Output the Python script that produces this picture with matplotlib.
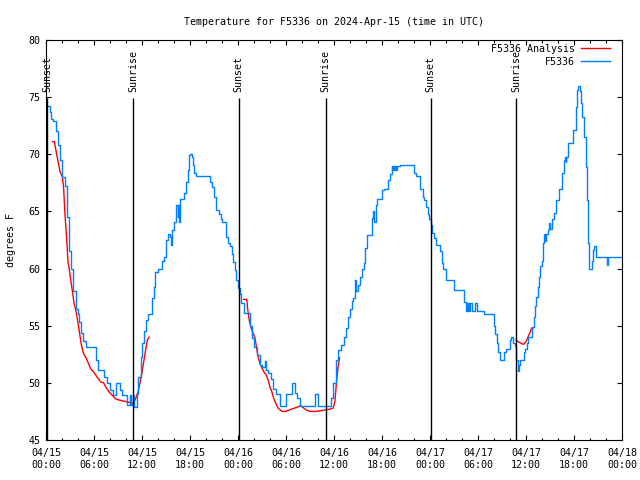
import matplotlib
matplotlib.use("Agg")
import matplotlib.pyplot as plt
import matplotlib.dates as mdates
import numpy as np
import pandas as pd

start = pd.Timestamp("2024-04-15 00:00")

# F5336 observations (hours after start, deg F)
obs_hours = [
    0.25, 0.45, 0.6, 0.9, 1.2, 1.5, 1.75, 2.05, 2.33, 2.6, 2.85, 3.15, 3.4, 3.7,
    3.95, 4.1, 4.4, 4.65, 4.95, 6.2, 6.5, 7.3, 7.6, 8.05, 8.4, 8.7, 9.3, 9.55,
    10.15, 10.5, 10.6, 10.9, 11.0, 11.4, 11.55, 11.85, 12.0, 12.2, 12.45, 12.7,
    13.25, 13.45, 13.6, 13.95, 14.5, 14.8, 15.0, 15.2, 15.5, 15.6, 15.8, 15.95,
    16.2, 16.3, 16.45, 16.55, 16.65, 16.8, 17.3, 17.55, 17.7, 17.85, 18.0, 18.2,
    18.35, 18.5, 18.7, 20.45, 20.75, 21.0, 21.3, 21.6, 21.9, 22.05, 22.5, 22.8,
    23.0, 23.2, 23.4, 23.6, 23.8, 24.0, 24.2, 24.4, 24.75, 25.45, 25.8, 26.0,
    26.4, 26.7, 27.0, 27.35, 27.5, 27.8, 28.1, 28.4, 28.75, 29.2, 30.0, 30.7,
    31.1, 31.35, 31.7, 33.6, 34.0, 35.6, 35.9, 36.2, 36.3, 36.5, 36.9, 37.2,
    37.5, 37.8, 38.0, 38.2, 38.4, 38.6, 38.75, 39.0, 39.2, 39.5, 39.7, 39.9,
    40.1, 40.75, 40.85, 40.95, 41.3, 41.4, 42.0, 42.2, 42.75, 43.0, 43.2, 43.3,
    43.4, 43.5, 43.6, 43.75, 43.85, 44.2, 45.95, 46.2, 46.75, 47.1, 47.3, 47.5,
    47.7, 47.9, 48.1, 48.3, 48.55, 48.8, 49.2, 49.45, 49.65, 50.0, 51.0, 52.3,
    52.5, 52.6, 52.7, 52.8, 52.9, 53.05, 53.2, 53.6, 53.9, 54.7, 55.95, 56.1,
    56.4, 56.55, 56.7, 57.3, 57.5, 58.0, 58.15, 58.4, 58.6, 58.8, 58.95, 59.15,
    59.3, 59.75, 59.9, 60.1, 60.25, 60.75, 60.95, 61.15, 61.3, 61.5, 61.65, 61.8,
    61.95, 62.1, 62.25, 62.35, 62.5, 62.7, 62.9, 63.05, 63.3, 63.5, 63.7, 64.1,
    64.5, 64.7, 64.85, 64.95, 65.05, 65.3, 65.9, 66.2, 66.4, 66.55, 66.7, 66.9,
    67.05, 67.3, 67.45, 67.6, 67.75, 67.85, 68.2, 68.4, 68.55, 68.7, 68.8, 70.1,
    70.3, 72.0,
]
obs_temps = [
    74.2, 73.7, 73.1, 72.9, 72.0, 70.8, 69.5, 68.0, 67.2, 64.5, 61.5, 60.0, 58.0, 56.5,
    56.0, 55.3, 54.4, 53.7, 53.1, 52.0, 51.1, 50.5, 50.0, 49.4, 48.9, 50.0, 49.4, 48.9,
    48.1, 48.9, 48.1, 48.9, 47.9, 49.0, 50.5, 52.3, 53.5, 54.5, 55.5, 56.0,
    57.4, 58.4, 59.7, 60.0, 60.7, 61.0, 62.5, 63.0, 62.8, 62.1, 63.4, 64.1,
    64.5, 65.6, 64.5, 65.6, 64.1, 66.1, 66.6, 67.6, 68.6, 69.9, 70.0, 69.8,
    69.1, 68.4, 68.1, 67.6, 67.1, 66.3, 65.1, 64.8, 64.3, 64.1, 62.8, 62.2,
    62.0, 61.3, 60.6, 59.9, 59.0, 58.3, 57.8, 57.0, 56.1, 55.0, 53.9, 53.1,
    52.4, 51.6, 51.4, 51.9, 51.1, 50.9, 50.3, 49.5, 49.0, 48.0, 49.0, 50.0,
    49.1, 48.7, 48.0, 49.0, 48.0, 48.7, 50.0, 50.9, 52.0, 52.9, 53.3, 54.0,
    54.8, 55.8, 56.5, 57.2, 57.4, 59.0, 58.0, 58.6, 59.3, 60.0, 60.5, 61.8,
    62.9, 64.4, 65.0, 64.1, 65.6, 66.1, 66.9, 67.0, 67.75, 68.3, 69.0, 68.6,
    69.0, 68.6, 69.0, 68.6, 69.0, 69.1, 68.4, 68.1, 67.0, 66.3, 66.0, 65.4,
    64.8, 64.3, 63.8, 63.1, 62.7, 62.1, 61.5, 60.5, 60.0, 59.0, 58.1, 57.1,
    56.3, 57.0, 56.3, 57.0, 56.3, 57.0, 56.3, 57.0, 56.3, 56.0, 55.0, 54.3,
    53.5, 52.7, 52.0, 52.7, 53.0, 53.75, 54.0, 53.5, 53.2, 52.0, 51.0, 51.6,
    52.0, 52.7, 53.0, 53.5, 54.0, 54.9, 55.8, 56.7, 57.5, 58.4, 59.3, 60.2,
    60.7, 62.2, 63.0, 62.4, 63.0, 63.4, 64.0, 63.5, 64.3, 64.9, 66.0, 67.0,
    68.4, 69.5, 69.8, 69.3, 69.8, 71.0, 72.1, 74.1, 75.6, 76.0, 75.5, 74.5,
    73.3, 71.5, 68.9, 66.0, 62.2, 60.0, 60.7, 61.6, 62.0, 61.2, 61.0, 60.3,
    61.0, 61.0,
]

# F5336 Analysis (nan marks gaps between runs)
ana_hours = [
    0.8, 1.05, 1.2, 1.5, 1.75, 2.05, 2.2, 2.35, 2.6, 2.75, 2.9, 3.15, 3.35, 3.5,
    3.8, 4.1, 4.4, 4.67, 5.0, 5.25, 5.6, 5.9, 6.2, 6.5, 6.8, 7.2, 7.5, 7.9, 8.3,
    8.7, 9.1, 9.75, 10.4, 10.9, 11.2, 11.5, 11.75, 12.0, 12.25, 12.46, 12.67, 12.9,
    np.nan,
    24.7, 25.1, 25.2, 25.4, 25.6, 25.8, 26.1, 26.3, 26.5, 26.8, 27.2, 27.5, 27.8,
    28.0, 28.2, 28.4, 28.6, 29.0, 29.5, 29.9, 30.3, 30.7, 31.1, 31.5, 31.8, 32.2,
    32.6, 33.0, 33.8, 34.7, 35.5, 35.9, 36.1, 36.2, 36.3, 36.5, 36.7,
    np.nan,
    58.75, 59.0, 59.3, 59.5, 59.8, 60.1, 60.3, 60.5, 60.7, 60.9,
]
ana_temps = [
    71.1, 71.1, 70.5, 69.4, 68.5, 68.0, 67.1, 65.0, 62.4, 60.6, 60.0, 58.7, 57.8, 57.0,
    56.1, 54.8, 53.4, 52.6, 52.2, 51.8, 51.2, 51.0, 50.7, 50.4, 50.1, 50.0, 49.6, 49.2, 48.9,
    48.6, 48.5, 48.4, 48.3, 48.2, 48.6, 49.2, 50.0, 50.9, 52.0, 52.9, 53.75, 54.0,
    np.nan,
    57.3, 57.3, 56.5, 55.5, 54.9, 54.5, 54.0, 53.2, 52.3, 51.6, 51.0, 50.7, 50.2,
    49.6, 49.3, 48.8, 48.4, 47.8, 47.5, 47.5, 47.6, 47.7, 47.8, 47.9, 48.0, 47.8,
    47.6, 47.5, 47.5, 47.6, 47.7, 47.8, 48.3, 49.1, 50.0, 51.3, 52.2,
    np.nan,
    53.75, 53.6, 53.5, 53.4, 53.4, 53.75, 54.1, 54.4, 54.8, 54.8,
]

sun_hours = [0.15, 10.92, 24.1, 34.95, 48.1, 58.75]
sun_labels = ["Sunset", "Sunrise", "Sunset", "Sunrise", "Sunset", "Sunrise"]


def to_time(hours):
    h = np.array(hours, dtype=float)
    t = start + pd.to_timedelta(np.nan_to_num(h), unit="h")
    t = t.to_numpy().astype("datetime64[ns]")
    t[np.isnan(h)] = np.datetime64("NaT")
    return t


plt.rcParams["font.family"] = "DejaVu Sans Mono"
plt.rcParams["font.size"] = 7.2

fig = plt.figure(figsize=(6.4, 4.8), dpi=100)
ax = fig.add_axes([46 / 640, 40 / 480, 576 / 640, 400 / 480])

ax.plot(to_time(ana_hours), ana_temps, color="#ff0000", lw=1.0, label="F5336 Analysis")
ax.plot(to_time(obs_hours), obs_temps, color="#0080ff", lw=1.0,
        drawstyle="steps-post", label="F5336")

for h, lab in zip(sun_hours, sun_labels):
    t = start + pd.Timedelta(hours=h)
    ax.vlines(t, 45, 74.9, color="black", lw=1.0)
    ax.text(t, 75.45, lab, rotation=90, ha="center", va="bottom")

ax.set_xlim(start, start + pd.Timedelta(hours=72))
ax.set_ylim(45, 80)
ax.set_yticks(np.arange(45, 81, 5))
ax.xaxis.set_major_locator(mdates.HourLocator(byhour=range(0, 24, 6)))
ax.xaxis.set_minor_locator(mdates.HourLocator(byhour=range(0, 24, 2)))
ax.xaxis.set_major_formatter(mdates.DateFormatter("%m/%d\n%H:%M"))
ax.tick_params(which="both", direction="in", top=True, right=True, width=0.8)
ax.tick_params(which="major", length=3.6)
ax.tick_params(which="minor", length=1.8)
ax.tick_params(axis="x", pad=6)
ax.tick_params(axis="y", pad=4)
for lbl in ax.get_xticklabels():
    lbl.set_linespacing(1.2)

ax.set_title("Temperature for F5336 on 2024-Apr-15 (time in UTC)",
             fontsize=7.2, pad=10.5)
ax.set_ylabel("degrees F", labelpad=9)

ax.legend(loc="upper right", bbox_to_anchor=(0.979, 0.99), frameon=False,
          markerfirst=False, handlelength=2.9, handletextpad=0.6,
          labelspacing=0.3, borderpad=0, borderaxespad=0)

fig.savefig("out.png", dpi=100)
